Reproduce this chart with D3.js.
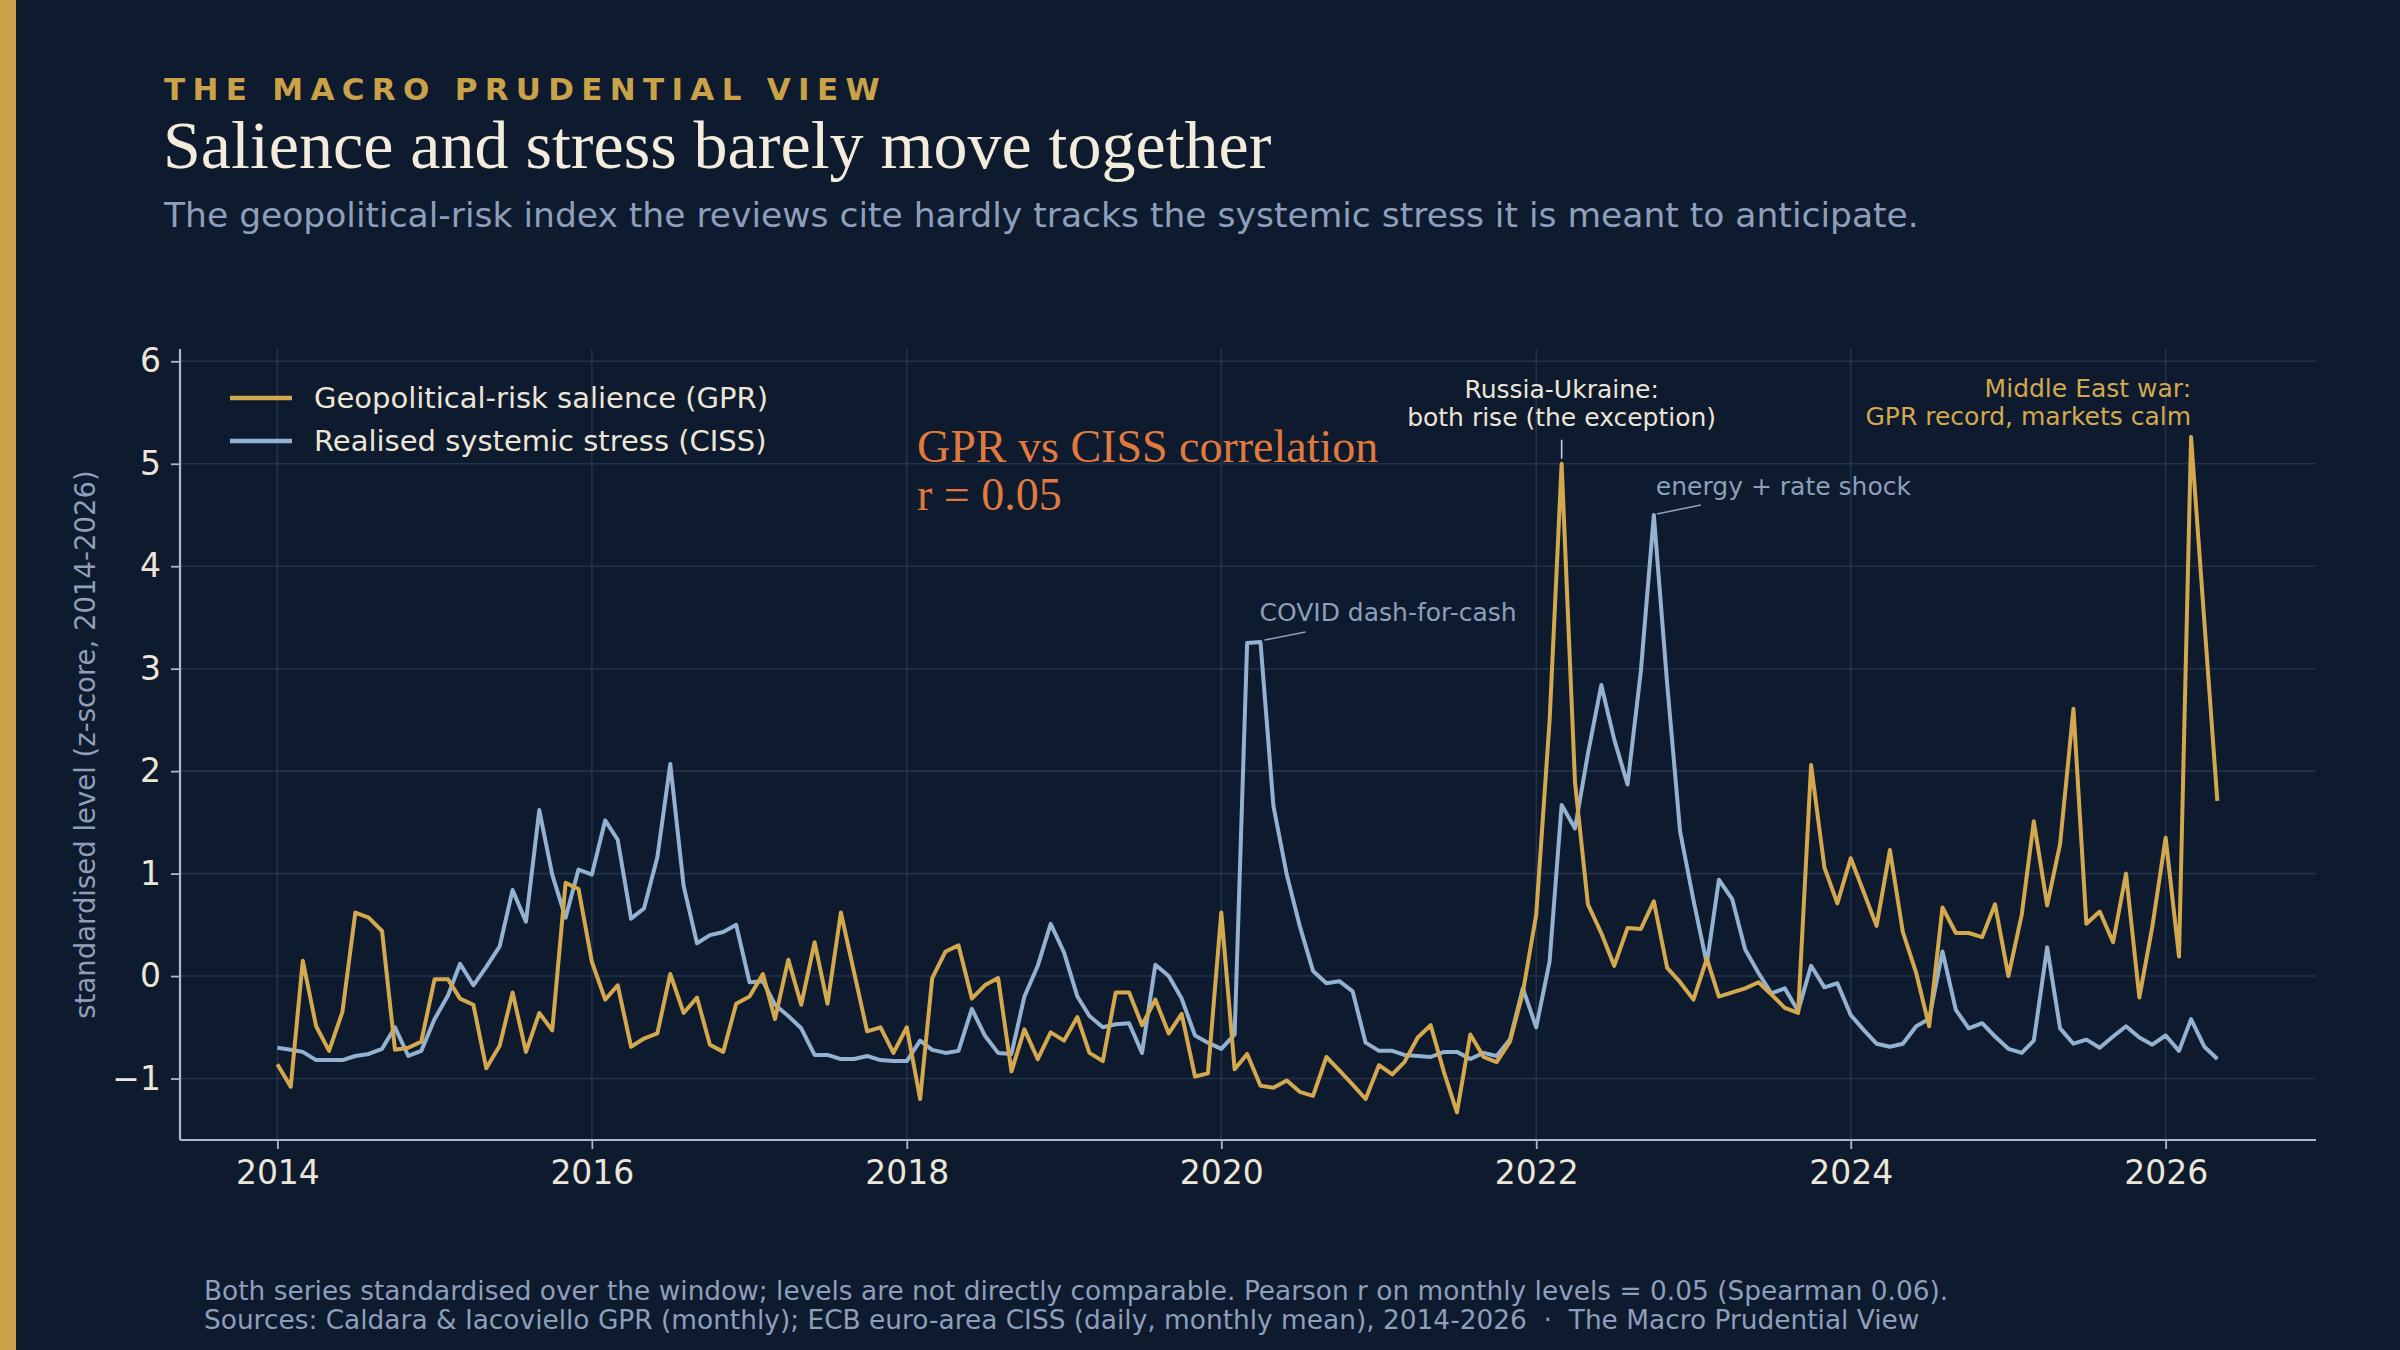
<!DOCTYPE html>
<html>
<head>
<meta charset="utf-8">
<script src="https://cdn.jsdelivr.net/npm/d3@7"></script>
<style>
  html, body { margin: 0; padding: 0; background: #0e1a2d; }
  svg { display: block; }
</style>
</head>
<body>
<svg id="chart" width="2400" height="1350"></svg>
<script>
// ---------------- DATA ----------------
const startYear = 2014;
const gprValues = [
  -0.86, -1.08, 0.15, -0.49, -0.73, -0.35, 0.62, 0.57, 0.44, -0.72, -0.70, -0.64,
  -0.03, -0.03, -0.22, -0.28, -0.90, -0.68, -0.16, -0.74, -0.36, -0.53, 0.91, 0.85,
  0.14, -0.23, -0.09, -0.69, -0.61, -0.56, 0.02, -0.36, -0.21, -0.67, -0.74, -0.27,
  -0.20, 0.02, -0.42, 0.16, -0.28, 0.33, -0.27, 0.62, 0.03, -0.54, -0.50, -0.75,
  -0.50, -1.20, -0.02, 0.24, 0.30, -0.22, -0.09, -0.02, -0.93, -0.52, -0.81, -0.55,
  -0.63, -0.40, -0.75, -0.83, -0.16, -0.16, -0.48, -0.23, -0.56, -0.37, -0.98, -0.95,
  0.62, -0.91, -0.76, -1.07, -1.09, -1.02, -1.13, -1.17, -0.79, -0.92, -1.06, -1.20,
  -0.87, -0.96, -0.84, -0.60, -0.48, -0.94, -1.33, -0.57, -0.79, -0.84, -0.64, -0.16,
  0.60, 2.49, 5.00, 1.89, 0.70, 0.42, 0.10, 0.47, 0.46, 0.73, 0.08, -0.06,
  -0.23, 0.17, -0.20, -0.16, -0.12, -0.06, -0.18, -0.31, -0.36, 2.06, 1.06, 0.71,
  1.15, 0.81, 0.49, 1.23, 0.43, 0.03, -0.49, 0.67, 0.42, 0.42, 0.38, 0.70,
  0.00, 0.60, 1.51, 0.69, 1.29, 2.61, 0.51, 0.63, 0.33, 1.00, -0.21, 0.48,
  1.35, 0.19, 5.26, 3.45, 1.71
];
const cissValues = [
  -0.70, -0.72, -0.74, -0.82, -0.82, -0.82, -0.78, -0.76, -0.71, -0.50, -0.78, -0.73,
  -0.42, -0.19, 0.12, -0.09, 0.09, 0.29, 0.84, 0.53, 1.62, 0.99, 0.57, 1.04,
  0.99, 1.52, 1.33, 0.56, 0.66, 1.16, 2.07, 0.88, 0.32, 0.40, 0.43, 0.50,
  -0.06, -0.05, -0.28, -0.39, -0.51, -0.77, -0.77, -0.81, -0.81, -0.78, -0.82, -0.83,
  -0.83, -0.63, -0.72, -0.75, -0.73, -0.32, -0.58, -0.75, -0.76, -0.20, 0.10, 0.51,
  0.23, -0.20, -0.39, -0.50, -0.47, -0.46, -0.75, 0.11, 0.00, -0.22, -0.58, -0.65,
  -0.71, -0.57, 3.25, 3.26, 1.66, 0.99, 0.49, 0.05, -0.07, -0.05, -0.15, -0.65,
  -0.73, -0.73, -0.77, -0.78, -0.79, -0.74, -0.74, -0.81, -0.75, -0.78, -0.62, -0.12,
  -0.50, 0.14, 1.67, 1.44, 2.17, 2.84, 2.31, 1.87, 2.98, 4.50, 2.85, 1.41,
  0.74, 0.12, 0.94, 0.75, 0.26, 0.03, -0.17, -0.12, -0.34, 0.10, -0.11, -0.07,
  -0.38, -0.53, -0.66, -0.69, -0.66, -0.49, -0.42, 0.24, -0.33, -0.51, -0.46, -0.59,
  -0.71, -0.75, -0.63, 0.28, -0.51, -0.66, -0.62, -0.70, -0.59, -0.49, -0.60, -0.67,
  -0.58, -0.73, -0.42, -0.69, -0.81
];
const xTickYears = [2014, 2016, 2018, 2020, 2022, 2024, 2026];
const yTickValues = [-1, 0, 1, 2, 3, 4, 5, 6];
const seriesNames = ["Geopolitical-risk salience (GPR)", "Realised systemic stress (CISS)"];
const annotations = [
  { series: "ciss", date: [2020, 3], lines: ["COVID dash-for-cash"] },
  { series: "gpr", date: [2022, 2], lines: ["Russia-Ukraine:", "both rise (the exception)"] },
  { series: "ciss", date: [2022, 9], lines: ["energy + rate shock"] },
  { series: "gpr", date: [2026, 2], lines: ["Middle East war:", "GPR record, markets calm"] }
];
const kicker = "THE MACRO PRUDENTIAL VIEW";
const title = "Salience and stress barely move together";
const subtitle = "The geopolitical-risk index the reviews cite hardly tracks the systemic stress it is meant to anticipate.";
const corrLines = ["GPR vs CISS correlation", "r = 0.05"];
const yLabel = "standardised level (z-score, 2014-2026)";
const footerLines = [
  "Both series standardised over the window; levels are not directly comparable. Pearson r on monthly levels = 0.05 (Spearman 0.06).",
  "Sources: Caldara & Iacoviello GPR (monthly); ECB euro-area CISS (daily, monthly mean), 2014-2026  \u00b7  The Macro Prudential View"
];

// ---------------- STYLE ----------------
const C = {
  bg: "#0e1a2d", gold: "#d4a84f", blue: "#93b1d0", grid: "#22324b",
  spine: "#a9b8cc", text: "#ece6d8", muted: "#8d9fba", orange: "#e07a3e", accent: "#c9a24a"
};
const sans = "'DejaVu Sans', sans-serif";
const serif = "'Liberation Serif', 'DejaVu Serif', serif";

const svg = d3.select("#chart");
svg.append("rect").attr("width", 2400).attr("height", 1350).attr("fill", C.bg);
svg.append("rect").attr("x", 0).attr("y", 0).attr("width", 16).attr("height", 1350).attr("fill", C.accent);

// header
svg.append("text").attr("x", 164).attr("y", 100).text(kicker)
  .attr("font-family", sans).attr("font-weight", "bold").attr("font-size", 31)
  .attr("letter-spacing", "7.3px").attr("fill", C.accent);
svg.append("text").attr("x", 163).attr("y", 168).text(title)
  .attr("font-family", serif).attr("font-size", 68).attr("fill", "#f3ecdc");
svg.append("text").attr("x", 164).attr("y", 227).text(subtitle)
  .attr("font-family", sans).attr("font-size", 34.5).attr("fill", C.muted);

// ---------------- SCALES ----------------
const plot = { left: 180, right: 2316, top: 349, bottom: 1140 };
const x = d3.scaleTime()
  .domain([new Date(2013, 4, 20), new Date(2026, 11, 16)])
  .range([plot.left, plot.right]);
const y = d3.scaleLinear().domain([-1.6, 6.12]).range([plot.bottom, plot.top]);
const dateOf = i => new Date(startYear + Math.floor(i / 12), i % 12, 1);

const g = svg.append("g");

// grid
g.append("g").selectAll("line").data(xTickYears).join("line")
  .attr("x1", d => x(new Date(d, 0, 1))).attr("x2", d => x(new Date(d, 0, 1)))
  .attr("y1", plot.top).attr("y2", plot.bottom)
  .attr("stroke", C.grid).attr("stroke-width", 1.6);
g.append("g").selectAll("line").data(yTickValues).join("line")
  .attr("x1", plot.left).attr("x2", plot.right)
  .attr("y1", d => y(d)).attr("y2", d => y(d))
  .attr("stroke", C.grid).attr("stroke-width", 1.6);

// axes
const xAxis = d3.axisBottom(x).tickValues(xTickYears.map(d => new Date(d, 0, 1)))
  .tickFormat(d3.timeFormat("%Y")).tickSize(9).tickPadding(12);
const yAxis = d3.axisLeft(y).tickValues(yTickValues)
  .tickFormat(d => d < 0 ? "\u2212" + Math.abs(d) : d).tickSize(9).tickPadding(10);

const gx = g.append("g").attr("transform", `translate(0,${plot.bottom})`).call(xAxis);
const gy = g.append("g").attr("transform", `translate(${plot.left},0)`).call(yAxis);
[gx, gy].forEach(a => {
  a.select(".domain").attr("stroke", C.spine).attr("stroke-width", 2.2);
  a.selectAll(".tick line").attr("stroke", C.spine).attr("stroke-width", 1.8);
  a.selectAll(".tick text").attr("fill", C.text).attr("font-family", sans).attr("font-size", 33);
});
gx.select(".domain").attr("d", `M${plot.left},0H${plot.right}`);
gy.select(".domain").attr("d", `M0,${plot.top}V${plot.bottom}`);

svg.append("text")
  .attr("transform", `translate(95,${(plot.top + plot.bottom) / 2}) rotate(-90)`)
  .attr("text-anchor", "middle").text(yLabel)
  .attr("font-family", sans).attr("font-size", 27.5).attr("fill", C.muted);

// ---------------- LINES ----------------
const line = d3.line().x((d, i) => x(dateOf(i))).y(d => y(d));
g.append("path").datum(cissValues).attr("d", line).attr("fill", "none")
  .attr("stroke", C.blue).attr("stroke-width", 4).attr("stroke-linejoin", "round");
g.append("path").datum(gprValues).attr("d", line).attr("fill", "none")
  .attr("stroke", C.gold).attr("stroke-width", 4).attr("stroke-linejoin", "round");

// ---------------- LEGEND ----------------
const legend = svg.append("g");
[C.gold, C.blue].forEach((col, i) => {
  const ly = 398 + i * 43;
  legend.append("line").attr("x1", 230).attr("x2", 292).attr("y1", ly).attr("y2", ly)
    .attr("stroke", col).attr("stroke-width", 4.5);
  legend.append("text").attr("x", 314).attr("y", ly + 10).text(seriesNames[i])
    .attr("font-family", sans).attr("font-size", 29).attr("fill", C.text);
});

// ---------------- CORRELATION BOX ----------------
corrLines.forEach((t, i) => {
  svg.append("text").attr("x", 917).attr("y", 462 + i * 48).text(t)
    .attr("font-family", serif).attr("font-size", 46).attr("fill", C.orange);
});

// ---------------- ANNOTATIONS ----------------
function pt(a) {
  const idx = (a.date[0] - startYear) * 12 + a.date[1];
  const v = a.series === "gpr" ? gprValues[idx] : cissValues[idx];
  return [x(dateOf(idx)), y(v)];
}
const ann = svg.append("g").attr("font-family", sans).attr("font-size", 25);
// COVID
{
  const [px, py] = pt(annotations[0]);
  ann.append("line").attr("x1", px + 4).attr("y1", py - 2).attr("x2", px + 45).attr("y2", py - 10)
    .attr("stroke", C.muted).attr("stroke-width", 1.6);
  ann.append("text").attr("x", px - 1).attr("y", py - 21).text(annotations[0].lines[0]).attr("fill", C.muted);
}
// Russia-Ukraine
{
  const [px, py] = pt(annotations[1]);
  ann.append("line").attr("x1", px).attr("y1", py - 5).attr("x2", px).attr("y2", py - 24)
    .attr("stroke", "#c9ced8").attr("stroke-width", 1.6);
  annotations[1].lines.forEach((t, i) => {
    ann.append("text").attr("x", px).attr("y", py - 66 + i * 28).attr("text-anchor", "middle")
      .text(t).attr("fill", C.text);
  });
}
// energy + rate shock
{
  const [px, py] = pt(annotations[2]);
  ann.append("line").attr("x1", px + 3).attr("y1", py - 1).attr("x2", px + 47).attr("y2", py - 10)
    .attr("stroke", C.muted).attr("stroke-width", 1.6);
  ann.append("text").attr("x", px + 2).attr("y", py - 20).text(annotations[2].lines[0]).attr("fill", C.muted);
}
// Middle East
{
  const [px, py] = pt(annotations[3]);
  annotations[3].lines.forEach((t, i) => {
    ann.append("text").attr("x", px).attr("y", py - 40 + i * 28).attr("text-anchor", "end")
      .text(t).attr("fill", C.gold);
  });
}

// ---------------- FOOTER ----------------
footerLines.forEach((t, i) => {
  svg.append("text").attr("x", 204).attr("y", 1300 + i * 29).text(t)
    .attr("font-family", sans).attr("font-size", 26.4).attr("fill", C.muted)
    .attr("xml:space", "preserve").style("white-space", "pre");
});
</script>
</body>
</html>
